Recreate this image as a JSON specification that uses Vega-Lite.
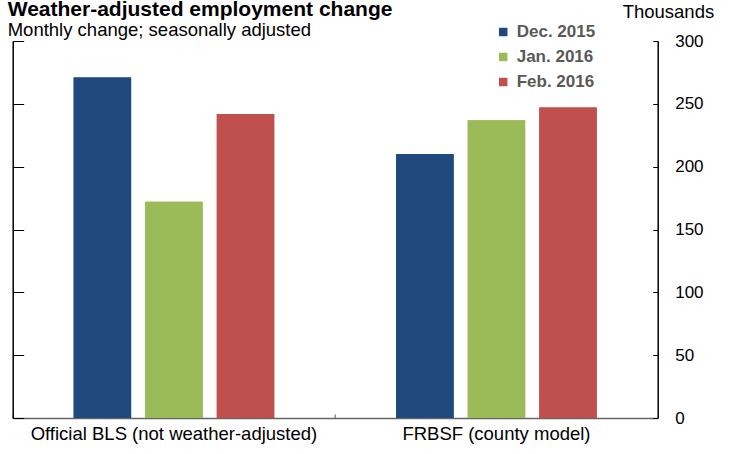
{
  "$schema": "https://vega.github.io/schema/vega-lite/v6.json",
  "width": 645,
  "height": 377,
  "autosize": {"type": "none"},
  "padding": {"left": 12.7, "top": 41, "right": 75.3, "bottom": 36},
  "background": "white",
  "title": {
    "text": "Weather-adjusted employment change",
    "subtitle": "Monthly change; seasonally adjusted",
    "anchor": "start",
    "frame": "group",
    "font": "Liberation Sans",
    "fontSize": 21,
    "fontWeight": "bold",
    "color": "black",
    "subtitleFont": "Liberation Sans",
    "subtitleFontSize": 18.5,
    "subtitleColor": "black",
    "subtitlePadding": 1,
    "offset": 3,
    "dx": -5,
    "dy": 40
  },
  "data": {
    "values": [
      {"series": "Official BLS (not weather-adjusted)", "month": "Dec. 2015", "value": 271},
      {"series": "Official BLS (not weather-adjusted)", "month": "Jan. 2016", "value": 172},
      {"series": "Official BLS (not weather-adjusted)", "month": "Feb. 2016", "value": 242},
      {"series": "FRBSF (county model)", "month": "Dec. 2015", "value": 210},
      {"series": "FRBSF (county model)", "month": "Jan. 2016", "value": 237},
      {"series": "FRBSF (county model)", "month": "Feb. 2016", "value": 247}
    ]
  },
  "encoding": {
    "x": {
      "field": "series",
      "type": "nominal",
      "sort": ["Official BLS (not weather-adjusted)", "FRBSF (county model)"],
      "scale": {"paddingInner": 0, "paddingOuter": 0},
      "axis": {
        "title": null,
        "orient": "bottom",
        "labelAngle": 0,
        "labelFont": "Liberation Sans",
        "labelFontSize": 18.5,
        "labelColor": "black",
        "labelPadding": 10,
        "labelLimit": 400,
        "bandPosition": 0,
        "ticks": true,
        "tickSize": -4,
        "tickColor": "#555",
        "domainColor": "#666",
        "domainWidth": 1.5
      }
    },
    "xOffset": {
      "field": "month",
      "type": "nominal",
      "sort": ["Dec. 2015", "Jan. 2016", "Feb. 2016"],
      "scale": {"paddingInner": 0.197, "paddingOuter": 0.852}
    },
    "color": {
      "field": "month",
      "type": "nominal",
      "sort": ["Dec. 2015", "Jan. 2016", "Feb. 2016"],
      "scale": {"domain": ["Dec. 2015", "Jan. 2016", "Feb. 2016"], "range": ["#1f497d", "#9bbb59", "#c0504d"]},
      "legend": {
        "title": null,
        "orient": "none",
        "legendX": 482,
        "legendY": -17.5,
        "symbolType": "square",
        "symbolSize": 72,
        "symbolStrokeWidth": 0,
        "labelFont": "Liberation Sans",
        "labelFontSize": 17,
        "labelFontWeight": "bold",
        "labelColor": "#595959",
        "labelOffset": 5,
        "rowPadding": 7
      }
    }
  },
  "layer": [
    {
      "mark": {"type": "bar"},
      "encoding": {
        "y": {
          "field": "value",
          "type": "quantitative",
          "scale": {"domain": [0, 300]},
          "axis": {
            "orient": "right",
            "values": [0, 50, 100, 150, 200, 250, 300],
            "grid": false,
            "title": "Thousands",
            "titleAngle": 0,
            "titleFont": "Liberation Sans",
            "titleFontSize": 18.5,
            "titleFontWeight": "normal",
            "titleColor": "black",
            "titleAlign": "right",
            "titleBaseline": "alphabetic",
            "titleX": 56,
            "titleY": -24,
            "labelFont": "Liberation Sans",
            "labelFontSize": 17,
            "labelColor": "black",
            "labelPadding": 22,
            "tickSize": -5,
            "tickColor": "black",
            "domainColor": "black",
            "domainWidth": 1.5
          }
        }
      }
    },
    {
      "mark": {"type": "bar"},
      "encoding": {
        "y": {
          "field": "value",
          "type": "quantitative",
          "scale": {"domain": [0, 300]},
          "axis": {
            "orient": "left",
            "values": [0, 50, 100, 150, 200, 250, 300],
            "grid": false,
            "title": null,
            "labels": false,
            "tickSize": -11,
            "tickColor": "black",
            "domainColor": "black",
            "domainWidth": 1.5
          }
        }
      }
    }
  ],
  "resolve": {"axis": {"y": "independent"}},
  "config": {"view": {"stroke": null}}
}
